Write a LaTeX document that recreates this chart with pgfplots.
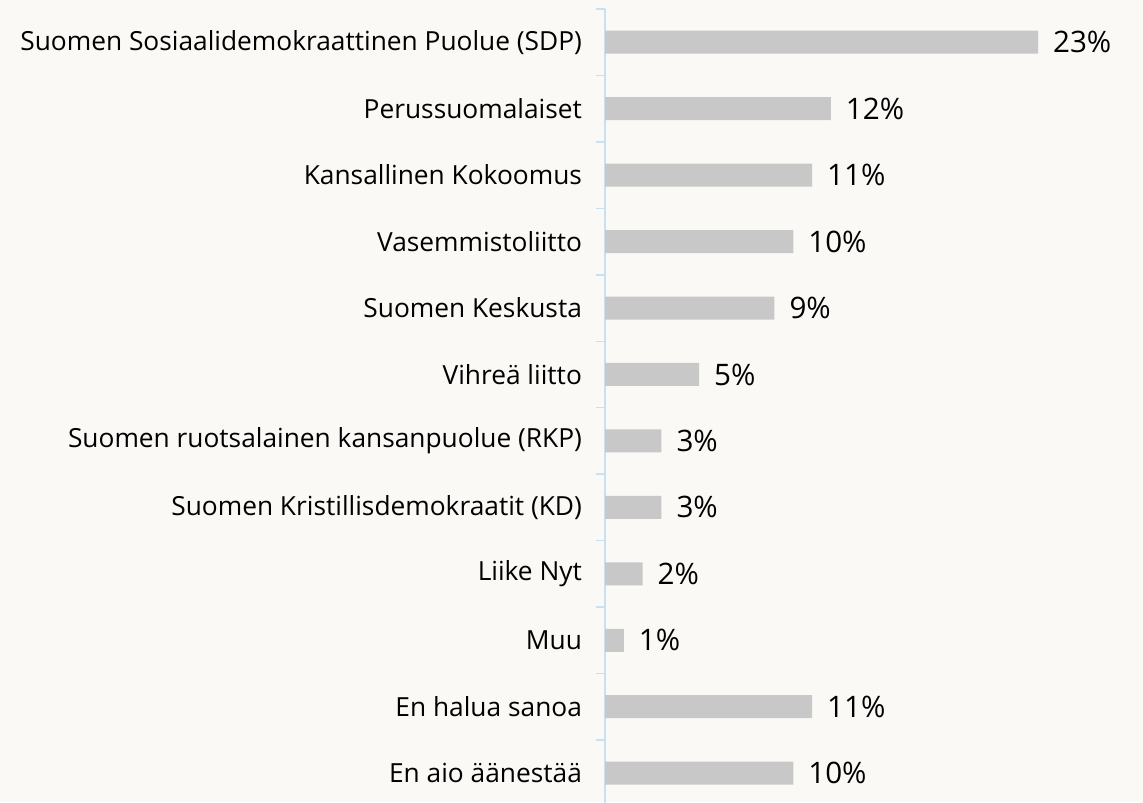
\documentclass[border=0pt]{standalone}
\usepackage{fontspec}
\setmainfont{Open Sans}
\usepackage{pgfplots}
\pgfplotsset{compat=1.18}
\definecolor{bg}{HTML}{FAF9F5}
\definecolor{barc}{HTML}{C8C8C8}
\definecolor{axb}{HTML}{C9E0F4}
\begin{document}
\begin{tikzpicture}
\fill[bg] (0,0) rectangle (571.5pt,401pt);
\begin{axis}[
  at={(302.5pt,396.5pt)}, anchor=north west,
  x=9.413pt, y=33.225pt, y dir=reverse,
  xmin=0, xmax=28, ymin=-0.5, ymax=11.5,
  xbar, bar width=11.5pt, bar shift=0pt,
  axis x line=none, axis y line=left,
  y axis line style={-, draw=axb, line width=0.75pt},
  ytick={0,...,11},
  yticklabels={Suomen Sosiaalidemokraattinen Puolue (SDP),Perussuomalaiset,Kansallinen Kokoomus,Vasemmistoliitto,Suomen Keskusta,Vihreä liitto,Suomen ruotsalainen kansanpuolue (RKP),Suomen Kristillisdemokraatit (KD),Liike Nyt,Muu,En halua sanoa,En aio äänestää},
  major tick length=0pt, minor ytick={-0.5,0.5,...,11.5}, minor tick length=4.5pt,
  tick align=outside, tick style={draw=axb, line width=0.75pt},
  yticklabel style={font=\fontsize{13.15}{15}\selectfont, text=black, xshift=-8pt},
  /pgf/number format/assume math mode=true,
  nodes near coords={\pgfmathprintnumber{\pgfplotspointmeta}\%},
  every node near coord/.append style={font=\fontsize{14.8}{17}\selectfont, text=black, anchor=west, xshift=4pt},
  clip=false,
]
\addplot[fill=barc, draw=none] coordinates {(23,0) (12,1) (11,2) (10,3) (9,4) (5,5) (3,6) (3,7) (2,8) (1,9) (11,10) (10,11)};
\end{axis}
\pgfresetboundingbox
\useasboundingbox (0,0) rectangle (571.5pt,401pt);
\end{tikzpicture}
\end{document}
